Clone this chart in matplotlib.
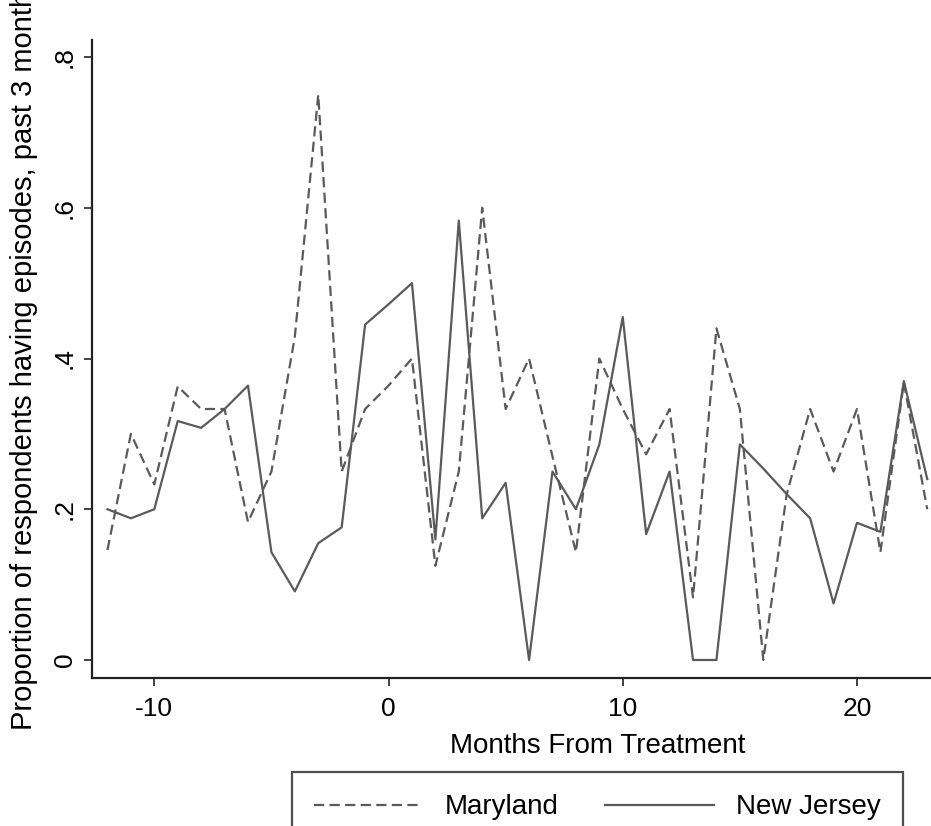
import matplotlib
matplotlib.use("Agg")
import matplotlib.pyplot as plt
import numpy as np

plt.rcParams['font.family'] = ['Liberation Sans', 'DejaVu Sans']
plt.rcParams['axes.unicode_minus'] = False

# months relative to treatment
months = np.arange(-12, 24)

maryland = [0.146, 0.30, 0.233, 0.363, 0.333, 0.333, 0.183, 0.25, 0.429, 0.75,
            0.25, 0.333, 0.364, 0.40, 0.125, 0.25, 0.60, 0.333, 0.40, 0.27,
            0.143, 0.40, 0.333, 0.273, 0.333, 0.083, 0.44, 0.333, 0.0, 0.22,
            0.333, 0.25, 0.333, 0.143, 0.368, 0.20]

new_jersey = [0.20, 0.188, 0.20, 0.317, 0.308, 0.333, 0.364, 0.143, 0.091, 0.155,
              0.176, 0.445, 0.472, 0.50, 0.16, 0.583, 0.188, 0.235, 0.0, 0.25,
              0.20, 0.286, 0.455, 0.167, 0.25, 0.0, 0.0, 0.286, 0.254, 0.22,
              0.188, 0.075, 0.182, 0.17, 0.37, 0.24]

yticks = [0, 0.2, 0.4, 0.6, 0.8]
ytick_labels = ['0', '.2', '.4', '.6', '.8']
xticks = [-10, 0, 10, 20]

W, H = 931, 826
fig = plt.figure(figsize=(W / 100, H / 100), dpi=100)
ax = fig.add_axes([92 / W, (H - 678) / H, (W - 92) / W, (678 - 40) / H])

line_col = '#5a5a5a'
ax.plot(months, maryland, color=line_col, lw=1.6, linestyle=(0, (4.6, 2.4)),
        label='Maryland')
ax.plot(months, new_jersey, color=line_col, lw=1.6, label='New Jersey')

ax.set_xlim(-12.66, 23.16)
ax.set_ylim(-0.0239, 0.8226)

ax.spines['top'].set_visible(False)
ax.spines['right'].set_visible(False)
for s in ['left', 'bottom']:
    ax.spines[s].set_linewidth(1.6)
    ax.spines[s].set_color('#222222')

ax.set_xticks(xticks)
ax.set_xticklabels([str(v) for v in xticks])
ax.set_yticks(yticks)
ax.set_yticklabels(ytick_labels)
ax.tick_params(axis='both', direction='out', length=6, width=1.2, labelsize=19,
               color='#222222')
ax.tick_params(axis='x', pad=8)
ax.tick_params(axis='y', pad=5)
for lab in ax.get_yticklabels():
    lab.set_rotation(90)
    lab.set_va('center')

ax.set_xlabel('Months From Treatment', fontsize=20, va='center')
ax.xaxis.set_label_coords((598 - 92) / (W - 92), -(746 - 678) / (678 - 40))

fig.text(24 / W, (H - 730) / H,
         'Proportion of respondents having episodes, past 3 months',
         rotation=90, ha='center', va='bottom', fontsize=21)

leg = ax.legend(loc='upper left', ncol=2, mode='expand',
                bbox_to_anchor=(292 / W, (H - 773) / H, (903 - 292) / W, 0.001),
                bbox_transform=fig.transFigure, fontsize=20, frameon=True,
                fancybox=False, borderpad=0.8, handlelength=3.9,
                handletextpad=0.8, borderaxespad=0)
leg.get_frame().set_edgecolor('#222222')
leg.get_frame().set_linewidth(1.6)

fig.savefig('out.png', dpi=100)
